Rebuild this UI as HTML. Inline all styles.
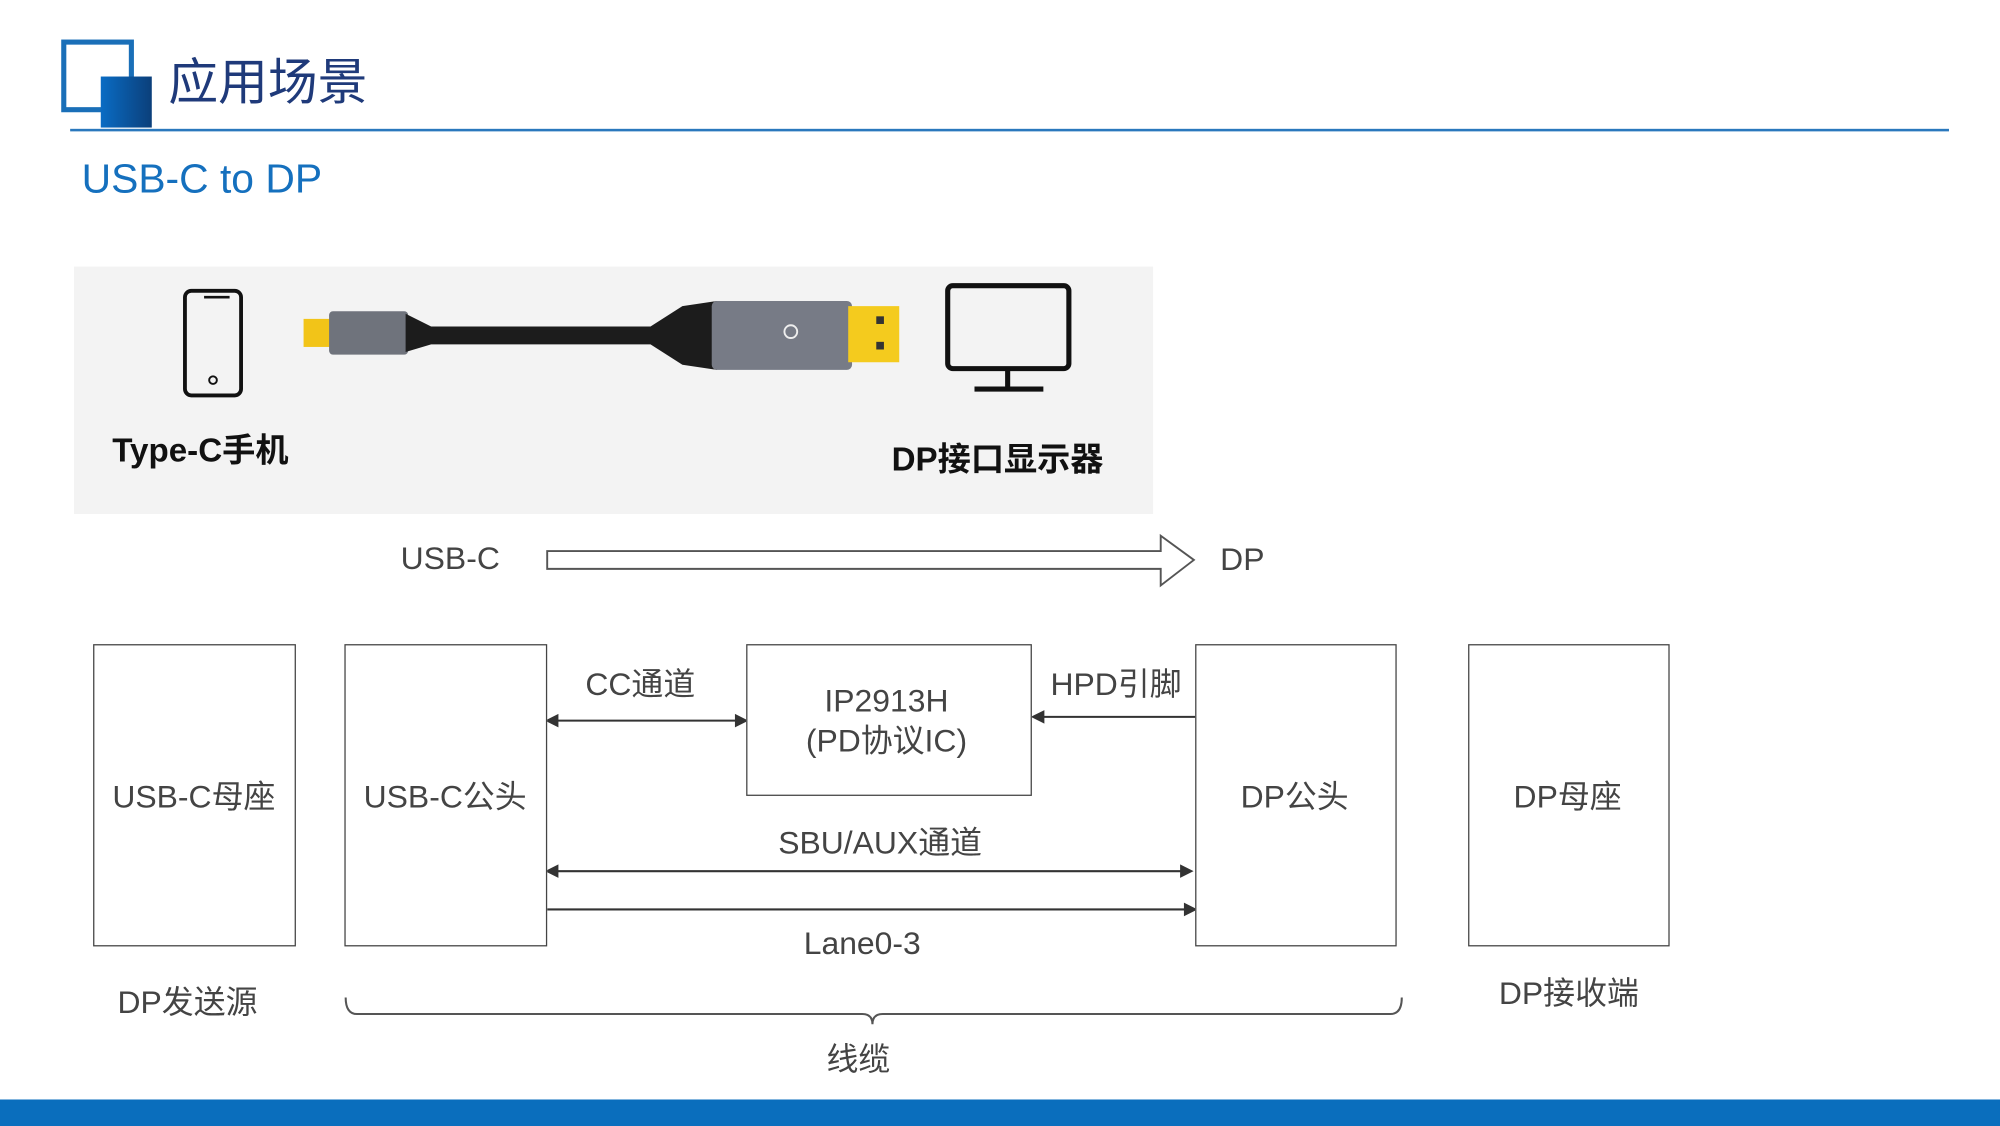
<!DOCTYPE html>
<html><head><meta charset="utf-8"><style>
html,body{margin:0;padding:0;background:#fff;overflow:hidden;width:2000px;height:1126px}
#s{position:absolute;left:0;top:0;width:1568px;height:883px;transform:scale(1.27551);transform-origin:0 0;font-family:"Liberation Sans","Noto Sans CJK SC",sans-serif}
.a{position:absolute}
.t{position:absolute;color:#444;font-size:25px;line-height:30px;white-space:nowrap;width:300px;margin-left:-150px;text-align:center}
.b{position:absolute;border:1.6px solid #444;box-sizing:border-box;background:#fff}
</style></head><body><div id="s">
<div class="a" style="left:48px;top:31px;width:57px;height:57px;border:4px solid #1a6fb8;box-sizing:border-box"></div>
<div class="a" style="left:79px;top:60px;width:40px;height:40px;background:linear-gradient(90deg,#0a6cc4,#0b3f7a)"></div>
<div class="a" style="left:132px;top:34px;font-size:39px;color:#1f3a7a;font-family:'Noto Sans CJK SC',sans-serif">应用场景</div>
<div class="a" style="left:55px;top:101px;width:1473px;height:1.5px;background:#2a78bd"></div>
<div class="a" style="left:64px;top:122px;font-size:32px;color:#1570be">USB-C to DP</div>

<div class="a" style="left:58px;top:209px;width:846px;height:194px;background:#f3f3f3"></div>
<svg class="a" style="left:0;top:0" width="1568" height="883">
<rect x="145" y="228" width="44" height="82" rx="5" fill="none" stroke="#111" stroke-width="3"/>
<line x1="160" y1="233" x2="180" y2="233" stroke="#111" stroke-width="2"/>
<circle cx="167" cy="298" r="3" fill="none" stroke="#111" stroke-width="1.5"/>
<rect x="743" y="224" width="95" height="65" rx="4" fill="none" stroke="#111" stroke-width="4"/>
<line x1="790" y1="289" x2="790" y2="304" stroke="#111" stroke-width="4"/>
<line x1="764" y1="305" x2="818" y2="305" stroke="#111" stroke-width="4"/>
<rect x="238" y="250" width="22" height="22" fill="#f2c418"/>
<rect x="258" y="244" width="62" height="34" rx="3" fill="#6f737c"/>
<path d="M318 246 L338 256 L510 256 L535 240 L562 236 L562 290 L535 286 L510 270 L338 270 L318 276Z" fill="#1c1c1c"/>
<rect x="558" y="236" width="110" height="54" rx="4" fill="#777b86"/>
<rect x="665" y="240" width="40" height="44" fill="#f4cb1e"/>
<rect x="687" y="248" width="6" height="6" fill="#333"/><rect x="687" y="268" width="6" height="6" fill="#333"/>
<circle cx="620" cy="260" r="5" fill="none" stroke="#eee" stroke-width="1.5"/>
<path d="M429 432 L910 432 L910 420 L936 439 L910 459 L910 446 L429 446Z" fill="#fff" stroke="#555" stroke-width="1.5"/>
<g stroke="#333" stroke-width="1.6" fill="#333">
<line x1="432" y1="565" x2="582" y2="565"/><path d="M429 565l8-4v8z M585 565l-8-4v8z"/>
<line x1="815" y1="562" x2="940" y2="562"/><path d="M810 562l8-4v8z"/>
<line x1="432" y1="683" x2="930" y2="683"/><path d="M429 683l8-4v8z M934 683l-8-4v8z"/>
<line x1="429" y1="713" x2="930" y2="713"/><path d="M937 713l-8-4v8z"/>
</g>
<path d="M271 782 Q271 795 280 795 L676 795 Q684 795 684 803 Q684 795 692 795 L1090 795 Q1099 795 1099 782" fill="none" stroke="#555" stroke-width="1.6"/>
</svg>
<div class="a" style="left:88px;top:333px;font-size:26px;color:#111;font-weight:bold">Type-C手机</div>
<div class="a" style="left:699px;top:340px;font-size:26px;color:#111;font-weight:bold">DP接口显示器</div>
<div class="b" style="left:73px;top:505px;width:159px;height:237px"></div>
<div class="b" style="left:270px;top:505px;width:159px;height:237px"></div>
<div class="b" style="left:585px;top:505px;width:224px;height:119px"></div>
<div class="b" style="left:937px;top:505px;width:158px;height:237px"></div>
<div class="b" style="left:1151px;top:505px;width:158px;height:237px"></div>
<div class="t" style="left:353px;top:423px">USB-C</div>
<div class="t" style="left:974px;top:424px">DP</div>
<div class="t" style="left:152px;top:610px">USB-C母座</div>
<div class="t" style="left:349px;top:610px">USB-C公头</div>
<div class="t" style="left:1015px;top:610px">DP公头</div>
<div class="t" style="left:1229px;top:610px">DP母座</div>
<div class="t" style="left:695px;top:535px">IP2913H</div>
<div class="t" style="left:695px;top:566px">(PD协议IC)</div>
<div class="t" style="left:502px;top:522px">CC通道</div>
<div class="t" style="left:875px;top:522px">HPD引脚</div>
<div class="t" style="left:690px;top:646px">SBU/AUX通道</div>
<div class="t" style="left:676px;top:725px">Lane0-3</div>
<div class="t" style="left:147px;top:771px">DP发送源</div>
<div class="t" style="left:1230px;top:764px">DP接收端</div>
<div class="t" style="left:673px;top:816px">线缆</div>
<div class="a" style="left:0;top:862px;width:1568px;height:21px;background:#0a6ebd"></div>
</div></body></html>
